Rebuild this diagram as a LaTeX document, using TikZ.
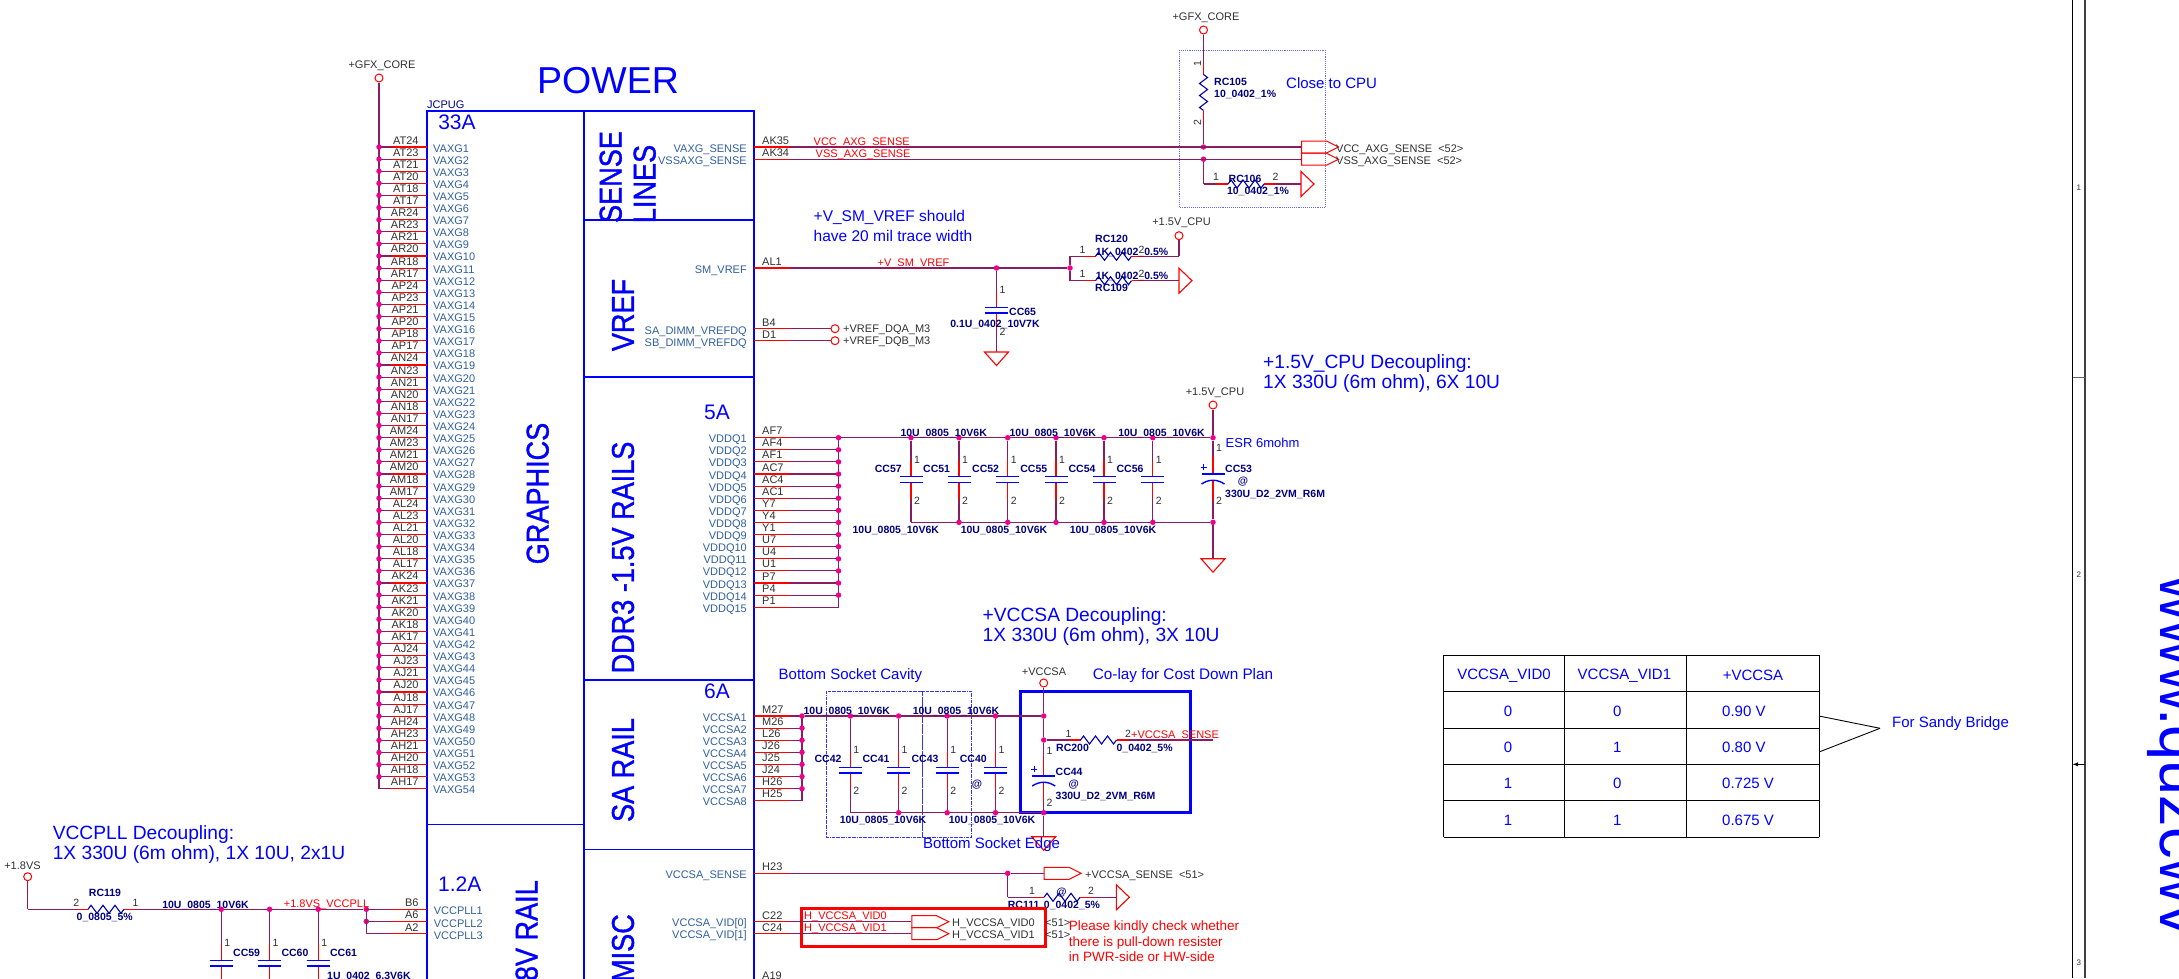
\documentclass[tikz,border=0pt]{standalone}
\usepackage{fontspec}
\setmainfont{Liberation Sans}
\newfontfamily\railfont[FakeBold=1.2]{Liberation Sans}
\usetikzlibrary{positioning}
\usetikzlibrary{calc}
\usetikzlibrary{shapes.symbols,decorations.pathmorphing}

\definecolor{wirecol}{HTML}{8A1C60}
\definecolor{signamecol}{HTML}{2F5F9E}
\definecolor{partcol}{HTML}{00007F}
\definecolor{padcol}{HTML}{303030}
\definecolor{boxcol}{HTML}{6A6AF0}

\tikzset{
wire/.style={draw=wirecol,line width=1.1pt},
pinline/.style={draw=red,line width=1.1pt},
blockline/.style={draw=blue,line width=1.4pt},
plate/.style={draw=blue,line width=1.4pt},
resbody/.style={draw=blue!70!black,line width=1.1pt,decorate,decoration={zigzag,segment length=12pt,amplitude=4pt}},
jdot/.style={circle,fill=magenta,inner sep=0pt,minimum size=5.5pt},
railend/.style={circle,draw=red,fill=white,line width=1pt,inner sep=0pt,minimum size=8pt},
railname/.style={font=\fontsize{11}{11}\selectfont,text=padcol,inner sep=0pt},
padname/.style={font=\fontsize{11}{11}\selectfont,text=padcol,inner sep=0pt,text height=8pt,text depth=0pt},
signame/.style={font=\fontsize{11}{11}\selectfont,text=signamecol,inner sep=0pt,text height=8pt,text depth=0pt},
partname/.style={font=\bfseries\fontsize{10.5}{10.5}\selectfont,text=partcol,inner sep=0pt,text height=8pt,text depth=0pt},
netname/.style={font=\fontsize{11}{11}\selectfont,text=red,inner sep=0pt,text height=8pt,text depth=0pt},
pinnum/.style={font=\fontsize{10.5}{10.5}\selectfont,text=padcol,inner sep=0pt},
notebig/.style={font=\fontsize{19.2}{19.2}\selectfont,text=blue,inner sep=0pt},
notemid/.style={font=\fontsize{15.5}{15.5}\selectfont,text=blue,inner sep=0pt},
ampere/.style={font=\fontsize{21}{21}\selectfont,text=blue,inner sep=0pt},
railtext/.style={font=\railfont\fontsize{31.5}{31.5}\selectfont,text=blue,rotate=90,inner sep=0pt},
hierport/.style={shape=signal,signal to=east,signal pointer angle=53,draw=red,line width=1pt,minimum width=37pt,minimum height=12pt,inner sep=0pt,anchor=west},
pics/capbody/.style={code={
\draw[pinline] (0,-19) -- (0,19);
\fill[white] (-11.5,-2.8) rectangle (11.5,2.8);
\draw[plate] (-11.5,-2.8) -- (11.5,-2.8) (-11.5,2.8) -- (11.5,2.8);
\coordinate (-a) at (0,-19);
\coordinate (-b) at (0,19);
}},
pics/polcap/.style={code={
\draw[pinline] (0,-22) -- (0,-4) (0,3) -- (0,22);
\draw[plate] (-11.5,-4) -- (11.5,-4);
\draw[plate] (-11.5,6) .. controls (-4,1) and (4,1) .. (11.5,6);
\draw[plate,line width=1pt] (-12.5,-11) -- (-6.5,-11) (-9.5,-14) -- (-9.5,-8);
\coordinate (-a) at (0,-22);
\coordinate (-b) at (0,22);
}},
pics/rzig/.style={code={
\draw[pinline] (-30,0) -- (-18,0) (18,0) -- (30,0);
\draw[resbody] (-18,0) -- (18,0);
\coordinate (-a) at (-30,0);
\coordinate (-b) at (30,0);
}},
pics/openport/.style={code={\draw[pinline] (0,-12.5) -- (13,0) -- (0,12.5) -- cycle;}},
pics/gndmark/.style={code={\draw[pinline] (-12,0) -- (12,0) -- (0,13.5) -- cycle;}},
}

\begin{document}
\begin{tikzpicture}[x=1pt,y=-1pt]
\useasboundingbox (0,0) rectangle (2179,978);
\clip (0,0) rectangle (2179,978);

% block outline
\coordinate (blockNW) at (427,111);
\coordinate (blockSE) at (754,995);
\draw[blockline] (blockNW) rectangle (blockSE);
\coordinate (divT) at (584,111);
\coordinate (divB) at (584,995);
\coordinate (gfxSplitL) at (427,824.7);
\coordinate (gfxSplitR) at (584,824.7);
\path
(divT) edge[blockline] (divB)
(gfxSplitL) edge[blockline] (gfxSplitR);
\foreach \yy [count=\i] in {220,377,680,849.3}{
\coordinate (railL\i) at (584,\yy);
\coordinate (railR\i) at (754,\yy);
\path (railL\i) edge[blockline] (railR\i);
}

\node[font=\fontsize{37.5}{37.5}\selectfont,text=blue,inner sep=0pt] (powerTitle) at (608,81){POWER};
\node[font=\fontsize{11}{11}\selectfont,text=partcol,inner sep=0pt,anchor=west] (jcpug) at (427,105){JCPUG};
\node[ampere] (amp33) at (457,122){33A};
\node[ampere] (amp5) at (717,412){5A};
\node[ampere] (amp6) at (717,691){6A};
\node[ampere] (amp12) at (459.7,884){1.2A};
\node[railtext] (railGfx) at (537.7,493.5){\scalebox{.86}[1]{GRAPHICS}};
\node[railtext] (railSense) at (610.7,177){\scalebox{.86}[1]{SENSE}};
\node[railtext] (railLines) at (644.7,184){\scalebox{.86}[1]{LINES}};
\node[railtext] (railVref) at (623,315){\scalebox{.86}[1]{VREF}};
\node[railtext] (railDdr) at (623,557.5){\scalebox{.86}[1]{DDR3 -1.5V RAILS}};
\node[railtext] (railSa) at (623,770){\scalebox{.86}[1]{SA RAIL}};
\node[railtext,anchor=east] (railPll) at (526.7,880){\scalebox{.86}[1]{1.8V RAIL}};
\node[railtext,anchor=east] (railMisc) at (623,914){\scalebox{.86}[1]{MISC}};

% graphics pads
\node[railend] (gfxCore) at (379,78){};
\node[railname] (gfxCoreLabel) at (382,66){+GFX\_CORE};
\coordinate (gfxBusEnd) at (379,788.8);
\path (gfxCore) edge[wire] (gfxBusEnd);
\foreach \pad [count=\i,evaluate=\i as \yy using 147+12.11*(\i-1)] in {AT24,AT23,AT21,AT20,AT18,AT17,AR24,AR23,AR21,AR20,AR18,AR17,AP24,AP23,AP21,AP20,AP18,AP17,AN24,AN23,AN21,AN20,AN18,AN17,AM24,AM23,AM21,AM20,AM18,AM17,AL24,AL23,AL21,AL20,AL18,AL17,AK24,AK23,AK21,AK20,AK18,AK17,AJ24,AJ23,AJ21,AJ20,AJ18,AJ17,AH24,AH23,AH21,AH20,AH18,AH17}{
\coordinate (gfxA\i) at (427,\yy);
\coordinate (gfxB\i) at (391,\yy);
\coordinate (gfxC\i) at (379,\yy);
\path
(gfxA\i) edge[pinline] (gfxB\i)
(gfxB\i) edge[wire] (gfxC\i);
\ifnum\i<54 \node[jdot] (gfxDot\i) at (gfxC\i){}; \fi
\node[padname,anchor=east] (gfxPad\i) at (418.7,\yy-7){\pad};
\node[signame,anchor=west] (gfxSig\i) at (433,\yy+1){VAXG\i};
}

% sense lines
\node[railend] (gfxCoreB) at (1203.5,30){};
\node[railname] (gfxCoreBLabel) at (1206,18){+GFX\_CORE};
\draw[boxcol,densely dotted,line width=.9pt] (1179,50) rectangle (1325.5,207);
\node[notemid,font=\fontsize{15}{15}\selectfont,anchor=west] (closeNote) at (1286,82.7){Close to CPU};
\foreach \pad/\sig/\net/\netx/\out [count=\i,evaluate=\i as \yy using 147+12.2*(\i-1)] in {AK35/VAXG\_SENSE/VCC\_AXG\_SENSE/813.5/VCC\_AXG\_SENSE,AK34/VSSAXG\_SENSE/VSS\_AXG\_SENSE/815.5/VSS\_AXG\_SENSE}{
\coordinate (senseA\i) at (754,\yy);
\coordinate (senseB\i) at (790,\yy);
\node[hierport] (sensePort\i) at (1301,\yy){};
\node[jdot] (senseDot\i) at (1203.5,\yy){};
\path
(senseA\i) edge[pinline] (senseB\i)
(senseB\i) edge[wire] (sensePort\i.west);
\node[padname,anchor=west] (sensePad\i) at (762,\yy-7){\pad};
\node[signame,anchor=east] (senseSig\i) at (747,\yy+1){\sig};
\node[netname,anchor=west] (senseNet\i) at (\netx,\yy-6){\net};
\node[padname,anchor=west] (senseOut\i) at (1336,\yy+1){\out\ \ <52>};
}
\pic[rotate=-90] (RC105) at (1203.5,92.5) {rzig};
\path
(gfxCoreB) edge[wire] (RC105-a)
(RC105-b) edge[wire] (senseDot1);
\node[pinnum,rotate=90] (RC105n1) at (1197.5,64){1};
\node[pinnum,rotate=90] (RC105n2) at (1197.5,122.7){2};
\node[partname,anchor=west] (RC105name) at (1214,81){RC105};
\node[partname,anchor=west] (RC105val) at (1214,93.7){10\_0402\_1\%};
\pic (RC106) at (1246,184) {rzig};
\coordinate (rc106corner) at (1203.5,184);
\coordinate (rc106end) at (1301,184);
\path
(senseDot2) edge[wire] (rc106corner)
(rc106corner) edge[wire] (RC106-a)
(RC106-b) edge[wire] (rc106end);
\pic at (1301,184) {openport};
\node[pinnum] (RC106n1) at (1216,177){1};
\node[pinnum] (RC106n2) at (1275.5,177){2};
\node[partname] (RC106name) at (1245,178){RC106};
\node[partname] (RC106val) at (1258,190){10\_0402\_1\%};

% memory reference
\node[notemid,anchor=west] (vrefNoteA) at (813.5,217){+V\_SM\_VREF should};
\node[notemid,anchor=west] (vrefNoteB) at (813.5,236){have 20 mil trace width};
\coordinate (alA) at (754,268);
\coordinate (alB) at (790,268);
\node[jdot] (alDotA) at (996.5,268){};
\node[jdot] (alDotB) at (1070,268){};
\path
(alA) edge[pinline] (alB)
(alB) edge[wire] (alDotA)
(alDotA) edge[wire] (alDotB);
\node[padname,anchor=west] (alPad) at (762,261){AL1};
\node[signame,anchor=east] (alSig) at (747,269){SM\_VREF};
\node[netname] (alNet) at (913.5,262){+V\_SM\_VREF};
\pic (RC120) at (1113.5,256.3) {rzig};
\pic (RC109) at (1113.5,280.7) {rzig};
\node[railend] (cpu15a) at (1179,235.7){};
\node[railname] (cpu15aLabel) at (1181.5,223){+1.5V\_CPU};
\coordinate (rc120L) at (1070,256.3);
\coordinate (rc120R) at (1179,256.3);
\coordinate (rc109L) at (1070,280.7);
\coordinate (rc109R) at (1179,280.7);
\path
(alDotB) edge[wire] (rc120L)
(rc120L) edge[wire] (RC120-a)
(RC120-b) edge[wire] (rc120R)
(rc120R) edge[wire] (cpu15a)
(alDotB) edge[wire] (rc109L)
(rc109L) edge[wire] (RC109-a)
(RC109-b) edge[wire] (rc109R);
\pic at (1179,280.7) {openport};
\node[pinnum] (RC120n1) at (1082.5,250){1};
\node[pinnum] (RC120n2) at (1141.5,250){2};
\node[pinnum] (RC109n1) at (1082.5,274){1};
\node[pinnum] (RC109n2) at (1141.5,274){2};
\node[partname] (RC120name) at (1111.5,238){RC120};
\node[partname] (RC120val) at (1132,251.7){1K\_0402\_0.5\%};
\node[partname] (RC109val) at (1132,275){1K\_0402\_0.5\%};
\node[partname] (RC109name) at (1111.5,287){RC109};
\pic (CC65) at (996.5,310) {capbody};
\coordinate (cc65gnd) at (996.5,352);
\path
(alDotA) edge[wire] (CC65-a)
(CC65-b) edge[wire] (cc65gnd);
\pic at (cc65gnd) {gndmark};
\node[pinnum] (CC65n1) at (1002.5,290){1};
\node[pinnum] (CC65n2) at (1002.5,332){2};
\node[partname,anchor=west] (CC65name) at (1009,311){CC65};
\node[partname] (CC65val) at (995,323){0.1U\_0402\_10V7K};
\foreach \pad/\sig/\out [count=\i,evaluate=\i as \yy using 328.7+12*(\i-1)] in {B4/SA\_DIMM\_VREFDQ/+VREF\_DQA\_M3,D1/SB\_DIMM\_VREFDQ/+VREF\_DQB\_M3}{
\coordinate (dimmA\i) at (754,\yy);
\coordinate (dimmB\i) at (790,\yy);
\node[railend] (dimmEnd\i) at (835,\yy){};
\path
(dimmA\i) edge[pinline] (dimmB\i)
(dimmB\i) edge[wire] (dimmEnd\i);
\node[padname,anchor=west] (dimmPad\i) at (762,\yy-6.7){\pad};
\node[signame,anchor=east] (dimmSig\i) at (747,\yy+1.3){\sig};
\node[padname,anchor=west] (dimmOut\i) at (843,\yy-.7){\out};
}

% ddr rail
\node[notebig,anchor=west] (ddrNoteA) at (1263,364){+1.5V\_CPU Decoupling:};
\node[notebig,anchor=west] (ddrNoteB) at (1263,384){1X 330U (6m ohm), 6X 10U};
\node[railend] (cpu15b) at (1213,405){};
\node[railname] (cpu15bLabel) at (1215,393){+1.5V\_CPU};
\coordinate (ddrBusEnd) at (838.5,607.2);
\coordinate (ddrBusTop) at (838.5,437.7);
\path (ddrBusTop) edge[wire] (ddrBusEnd);
\foreach \pad [count=\i,evaluate=\i as \yy using 437.7+12.11*(\i-1)] in {AF7,AF4,AF1,AC7,AC4,AC1,Y7,Y4,Y1,U7,U4,U1,P7,P4,P1}{
\coordinate (ddrA\i) at (754,\yy);
\coordinate (ddrB\i) at (790,\yy);
\coordinate (ddrC\i) at (838.5,\yy);
\path
(ddrA\i) edge[pinline] (ddrB\i)
(ddrB\i) edge[wire] (ddrC\i);
\ifnum\i<15 \node[jdot] (ddrDot\i) at (ddrC\i){}; \fi
\node[padname,anchor=west] (ddrPad\i) at (762,\yy-7){\pad};
\node[signame,anchor=east] (ddrSig\i) at (747,\yy+1){VDDQ\i};
}
\coordinate (ddrBotL) at (911,522.3);
\node[jdot] (ddrTopR) at (1213,437.7){};
\node[jdot] (ddrBotR) at (1213,522.3){};
\path
(ddrDot1) edge[wire] (ddrTopR)
(ddrBotL) edge[wire] (ddrBotR);
\foreach \xc/\capname/\labx [count=\i] in {911/CC57/888.3,959/CC51/936.6,1007.7/CC52/985.6,1056/CC55/1033.8,1104/CC54/1082,1152.8/CC56/1130}{
\pic (\capname) at (\xc,479.5) {capbody};
\node[jdot] (\capname t) at (\xc,437.7){};
\coordinate (\capname b) at (\xc,522.3);
\path
(\capname t) edge[wire] (\capname-a)
(\capname-b) edge[wire] (\capname b);
\ifnum\i>1 \node[jdot] (\capname d) at (\capname b){}; \fi
\node[pinnum] (\capname n1) at (\xc+6,460.3){1};
\node[pinnum] (\capname n2) at (\xc+6,501.3){2};
\node[partname] (\capname name) at (\labx,468.3){\capname};
}
\foreach \xc [count=\i] in {943.7,1052.8,1161.5}{
\node[partname] (ddrValT\i) at (\xc,432.3){10U\_0805\_10V6K};
}
\foreach \xc [count=\i] in {895.8,1004,1113}{
\node[partname] (ddrValB\i) at (\xc,529.7){10U\_0805\_10V6K};
}
\pic (CC53) at (1213,478) {polcap};
\coordinate (cc53gnd) at (1213,558.7);
\path
(cpu15b) edge[wire] (ddrTopR)
(ddrTopR) edge[wire] (CC53-a)
(CC53-b) edge[wire] (ddrBotR)
(ddrBotR) edge[wire] (cc53gnd);
\pic at (cc53gnd) {gndmark};
\node[pinnum] (CC53n1) at (1219,447.7){1};
\node[pinnum] (CC53n2) at (1219,501.3){2};
\node[partname,anchor=west] (CC53name) at (1225,468){CC53};
\node[partname] (CC53at) at (1243,480){@};
\node[partname,anchor=west] (CC53val) at (1225,493){330U\_D2\_2VM\_R6M};
\node[font=\fontsize{13}{13}\selectfont,text=blue,inner sep=0pt,anchor=west] (esrNote) at (1225.5,443){ESR 6mohm};

% sa rail
\node[notebig,anchor=west] (saNoteA) at (982.5,617){+VCCSA Decoupling:};
\node[notebig,anchor=west] (saNoteB) at (982.5,636.5){1X 330U (6m ohm), 3X 10U};
\node[notemid,font=\fontsize{15}{15}\selectfont,anchor=west] (cavityNote) at (778.5,676){Bottom Socket Cavity};
\node[notemid,font=\fontsize{15.3}{15.3}\selectfont,anchor=west] (colayNote) at (1092.7,676){Co-lay for Cost Down Plan};
\draw[blue!80!white,densely dashdotted,line width=.9pt] (826.3,691.3) rectangle (922.7,837.3);
\draw[blue!80!white,densely dashdotted,line width=.9pt] (922.7,691.3) rectangle (971.3,837.3);
\draw[blue,line width=3pt] (1020,691.3) rectangle (1190,812.7);
\coordinate (saBusEnd) at (802,800.8);
\coordinate (saBusTop) at (802,716);
\path (saBusTop) edge[wire] (saBusEnd);
\foreach \pad [count=\i,evaluate=\i as \yy using 716+12.11*(\i-1)] in {M27,M26,L26,J26,J25,J24,H26,H25}{
\coordinate (saA\i) at (754,\yy);
\coordinate (saB\i) at (790,\yy);
\coordinate (saC\i) at (802,\yy);
\path
(saA\i) edge[pinline] (saB\i)
(saB\i) edge[wire] (saC\i);
\ifnum\i<8 \node[jdot] (saDot\i) at (saC\i){}; \fi
\node[padname,anchor=west] (saPad\i) at (762,\yy-7){\pad};
\node[signame,anchor=east] (saSig\i) at (747,\yy+1){VCCSA\i};
}
\node[railend] (vccsa) at (1043.7,683){};
\node[railname] (vccsaLabel) at (1044,671.3){+VCCSA};
\node[jdot] (saTopR) at (1043.7,716){};
\node[jdot] (saBotR) at (1043.7,812.7){};
\node[jdot] (saSenseDot) at (1043.7,740){};
\coordinate (saBotL) at (850.4,812.7);
\path
(saDot1) edge[wire] (saTopR)
(saBotL) edge[wire] (saBotR);
\foreach \xc/\capname/\labx [count=\i] in {850.4/CC42/828,898.6/CC41/876,947.2/CC43/925,995.5/CC40/973.3}{
\pic (\capname) at (\xc,770) {capbody};
\node[jdot] (\capname t) at (\xc,716){};
\coordinate (\capname b) at (\xc,812.7);
\path
(\capname t) edge[wire] (\capname-a)
(\capname-b) edge[wire] (\capname b);
\ifnum\i>1 \node[jdot] (\capname d) at (\capname b){}; \fi
\node[pinnum] (\capname n1) at (\xc+6,750.3){1};
\node[pinnum] (\capname n2) at (\xc+6,791.3){2};
\node[partname] (\capname name) at (\labx,758.3){\capname};
}
\node[partname] (CC40at) at (977,783){@};
\foreach \xc [count=\i] in {846.8,956}{
\node[partname] (saValT\i) at (\xc,710.3){10U\_0805\_10V6K};
}
\foreach \xc [count=\i] in {883,992}{
\node[partname] (saValB\i) at (\xc,819.3){10U\_0805\_10V6K};
}
\pic (CC44) at (1043.7,780) {polcap};
\coordinate (cc44gnd) at (1043.7,836.7);
\path
(vccsa) edge[wire] (saTopR)
(saTopR) edge[wire] (saSenseDot)
(saSenseDot) edge[wire] (CC44-a)
(CC44-b) edge[wire] (saBotR)
(saBotR) edge[wire] (cc44gnd);
\pic at (cc44gnd) {gndmark};
\node[pinnum] (CC44n1) at (1049.6,750.7){1};
\node[pinnum] (CC44n2) at (1049.6,803.3){2};
\node[partname,anchor=west] (CC44name) at (1055.5,771.3){CC44};
\node[partname] (CC44at) at (1073.7,783){@};
\node[partname,anchor=west] (CC44val) at (1055.5,795.3){330U\_D2\_2VM\_R6M};
\pic (RC200) at (1098.5,740) {rzig};
\coordinate (rc200end) at (1213,740);
\path
(saSenseDot) edge[wire] (RC200-a)
(RC200-b) edge[wire] (rc200end);
\node[pinnum] (RC200n1) at (1068.6,734.3){1};
\node[pinnum] (RC200n2) at (1128,734.3){2};
\node[netname] (RC200net) at (1175,734){+VCCSA\_SENSE};
\node[partname,anchor=west] (RC200name) at (1056,747.3){RC200};
\node[partname,anchor=west] (RC200val) at (1116.4,747.3){0\_0402\_5\%};
\node[notemid,font=\fontsize{15}{15}\selectfont,anchor=west] (edgeNote) at (923,845){Bottom Socket Edge};

% misc
\coordinate (h23A) at (754,873.3);
\coordinate (h23B) at (790,873.3);
\node[jdot] (h23Dot) at (1007.7,873.3){};
\node[hierport] (h23Port) at (1043.7,873.3){};
\path
(h23A) edge[pinline] (h23B)
(h23B) edge[wire] (h23Dot)
(h23Dot) edge[wire] (h23Port.west);
\node[padname,anchor=west] (h23Pad) at (762,866.3){H23};
\node[signame,anchor=east] (h23Sig) at (747,874.3){VCCSA\_SENSE};
\node[padname,anchor=west] (h23Out) at (1085,874.3){+VCCSA\_SENSE\ \ <51>};
\pic (RC111) at (1062,897.3) {rzig};
\coordinate (rc111corner) at (1007.7,897.3);
\coordinate (rc111end) at (1116.4,897.3);
\path
(h23Dot) edge[wire] (rc111corner)
(rc111corner) edge[wire] (RC111-a)
(RC111-b) edge[wire] (rc111end);
\pic at (1116.4,897.3) {openport};
\node[pinnum] (RC111n1) at (1032,891){1};
\node[pinnum] (RC111n2) at (1091,891){2};
\node[partname] (RC111at) at (1061.5,891.7){@};
\node[partname,anchor=west] (RC111name) at (1007.7,904){RC111};
\node[partname,anchor=west] (RC111val) at (1043.7,904){0\_0402\_5\%};
\draw[red,line width=3pt] (801.4,908.7) rectangle (1045,946.7);
\foreach \pad/\sig/\net/\out [count=\i,evaluate=\i as \yy using 921.7+12*(\i-1)] in {C22/VCCSA\_VID[0]/H\_VCCSA\_VID0/H\_VCCSA\_VID0,C24/VCCSA\_VID[1]/H\_VCCSA\_VID1/H\_VCCSA\_VID1}{
\coordinate (vidA\i) at (754,\yy);
\coordinate (vidB\i) at (790,\yy);
\node[hierport] (vidPort\i) at (911.3,\yy){};
\path
(vidA\i) edge[pinline] (vidB\i)
(vidB\i) edge[wire] (vidPort\i.west);
\node[padname,anchor=west] (vidPad\i) at (762,\yy-6.7){\pad};
\node[signame,anchor=east] (vidSig\i) at (747,\yy+1){\sig};
\node[netname,anchor=west] (vidNet\i) at (804,\yy-6.5){\net};
\node[padname,anchor=west] (vidOut\i) at (952,\yy+.3){\out};
\node[padname,anchor=west] (vidRef\i) at (1045,\yy+1){<51>};
}
\node[font=\fontsize{13.5}{13.5}\selectfont,text=red,inner sep=0pt,anchor=west] (checkNoteA) at (1068.6,927.3){Please kindly check whether};
\node[font=\fontsize{13.5}{13.5}\selectfont,text=red,inner sep=0pt,anchor=west] (checkNoteB) at (1068.6,942.7){there is pull-down resister};
\node[font=\fontsize{13.5}{13.5}\selectfont,text=red,inner sep=0pt,anchor=west] (checkNoteC) at (1068.6,956.7){in PWR-side or HW-side};
\node[padname,anchor=west] (a19Pad) at (762,975){A19};

% vccpll
\node[notebig,anchor=west] (pllNoteA) at (52.6,834.3){VCCPLL Decoupling:};
\node[notebig,anchor=west] (pllNoteB) at (52.6,855){1X 330U (6m ohm), 1X 10U, 2x1U};
\node[railend] (vs18) at (27.7,876.7){};
\node[railname] (vs18Label) at (22.5,865.7){+1.8VS};
\coordinate (pllCorner) at (27.7,909.3);
\pic (RC119) at (106,909.3) {rzig};
\node[jdot] (pllDotA) at (366.3,909.3){};
\node[jdot] (pllDotB) at (366.3,921.4){};
\coordinate (pllBusEnd) at (366.3,933.6);
\path
(vs18) edge[wire] (pllCorner)
(pllCorner) edge[wire] (RC119-a)
(RC119-b) edge[wire] (pllDotA)
(pllDotA) edge[wire] (pllBusEnd);
\node[pinnum] (RC119n2) at (76.3,903.3){2};
\node[pinnum] (RC119n1) at (135.6,903.3){1};
\node[partname] (RC119name) at (105,892.3){RC119};
\node[partname] (RC119val) at (104.7,916.7){0\_0805\_5\%};
\foreach \pad [count=\i,evaluate=\i as \yy using 909.3+12.15*(\i-1)] in {B6,A6,A2}{
\coordinate (pllA\i) at (427,\yy);
\coordinate (pllB\i) at (391,\yy);
\coordinate (pllC\i) at (366.3,\yy);
\path
(pllA\i) edge[pinline] (pllB\i)
(pllB\i) edge[wire] (pllC\i);
\node[padname,anchor=east] (pllPad\i) at (418.7,\yy-6.6){\pad};
\node[signame,anchor=west] (pllSig\i) at (433.6,\yy+1.6){VCCPLL\i};
}
\node[partname] (pllVal) at (205.5,904.3){10U\_0805\_10V6K};
\node[netname] (pllNet) at (326.5,903.3){+1.8VS\_VCCPLL};
\foreach \xc/\capname [count=\i] in {221.3/CC59,269.6/CC60,318.2/CC61}{
\pic (\capname) at (\xc,963) {capbody};
\node[jdot] (\capname t) at (\xc,909.3){};
\coordinate (\capname b) at (\xc,990);
\path
(\capname t) edge[wire] (\capname-a)
(\capname-b) edge[wire] (\capname b);
\node[pinnum] (\capname n1) at (\xc+6,943){1};
\node[partname,anchor=west] (\capname name) at (\xc+11.7,952.3){\capname};
}
\node[partname,anchor=west] (CC61val) at (327,975){1U\_0402\_6.3V6K};

% vid table
\foreach \xc [count=\i] in {1443.8,1564.7,1686,1819}{
\coordinate (tabT\i) at (\xc,655.3);
\coordinate (tabB\i) at (\xc,837.3);
\path (tabT\i) edge[draw=black,line width=1pt] (tabB\i);
}
\foreach \yy [count=\i] in {655.3,691.7,728.3,764.3,800.7,837.3}{
\coordinate (tabL\i) at (1443.8,\yy);
\coordinate (tabR\i) at (1819,\yy);
\path (tabL\i) edge[draw=black,line width=1pt] (tabR\i);
}
\tikzset{tabtext/.style={font=\fontsize{15}{15}\selectfont,text=blue,inner sep=0pt}}
\node[tabtext] (tabHeadA) at (1504,675.3){VCCSA\_VID0};
\node[tabtext] (tabHeadB) at (1624.4,675.3){VCCSA\_VID1};
\node[tabtext] (tabHeadC) at (1753,675.3){+VCCSA};
\foreach \va/\vb/\vc/\yy [count=\i] in {0/0/0.90 V/711.7,0/1/0.80 V/747.7,1/0/0.725 V/783.7,1/1/0.675 V/820.7}{
\node[tabtext] (tabA\i) at (1508,\yy){\va};
\node[tabtext] (tabC\i) at (1617.4,\yy){\vb};
\node[tabtext,anchor=west] (tabD\i) at (1722,\yy){\vc};
}
\coordinate (braceA) at (1819,716);
\coordinate (braceB) at (1819,752);
\coordinate (braceTip) at (1880,728.3);
\path
(braceA) edge[draw=black,line width=.9pt] (braceTip)
(braceB) edge[draw=black,line width=.9pt] (braceTip);
\node[tabtext,anchor=west] (sandyNote) at (1892,724){For Sandy Bridge};

% frame on the right
\coordinate (frameAT) at (2072.5,0);
\coordinate (frameAB) at (2072.5,978);
\coordinate (frameBT) at (2085,0);
\coordinate (frameBB) at (2085,978);
\coordinate (frameCL) at (2072.5,377);
\coordinate (frameCR) at (2085,377);
\coordinate (frameDL) at (2072.5,764.3);
\coordinate (frameDR) at (2085,764.3);
\path
(frameAT) edge[draw=black,line width=1pt] (frameAB)
(frameBT) edge[draw=black!75,line width=1.2pt] (frameBB)
(frameCL) edge[draw=black!60,line width=1pt] (frameCR)
(frameDR) edge[-latex,draw=black,line width=.9pt] (frameDL);
\node[pinnum,font=\fontsize{8}{8}\selectfont] (frameN1) at (2078.7,188){1};
\node[pinnum,font=\fontsize{8}{8}\selectfont] (frameN2) at (2078.7,575){2};
\node[pinnum,font=\fontsize{8}{8}\selectfont] (frameN3) at (2078.7,962.3){3};
\node[font=\fontsize{63}{63}\selectfont,text=blue,inner sep=0pt,rotate=-90,anchor=base west] (siteMark) at (2160,575){www.quzcwv};
\end{tikzpicture}
\end{document}
